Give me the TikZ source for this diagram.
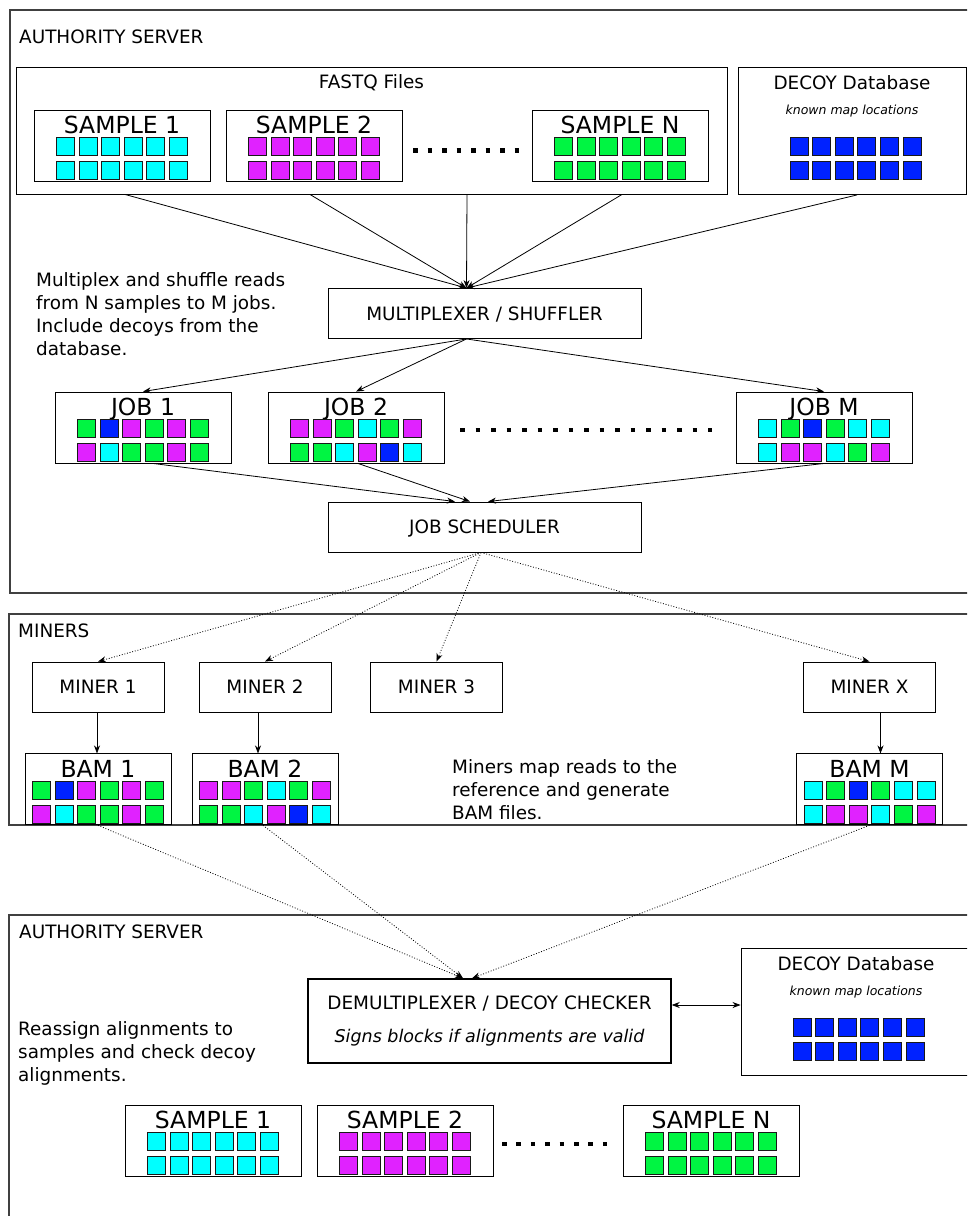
\documentclass[tikz,border=0pt]{standalone}
\usepackage{fontspec}
\setmainfont{DejaVu Sans}
\usetikzlibrary{positioning,arrows.meta}
\definecolor{cy}{HTML}{00FFFF}
\definecolor{ma}{HTML}{E022FF}
\definecolor{gn}{HTML}{00F542}
\definecolor{bu}{HTML}{0022FF}
\newcommand{\bodysize}{\fontsize{18.4}{23}\selectfont}
\newcommand{\cells}[3]{%
    \foreach \c [count=\i from 0] in {#2}
        \filldraw[cell, fill=\c] #1 ++(\i*22.6,0) rectangle ++(18,18);
    \foreach \c [count=\i from 0] in {#3}
        \filldraw[cell, fill=\c] #1 ++(\i*22.6,24) rectangle ++(18,18);
}
\tikzset{
    region/.style={draw=black!75, line width=1.2pt},
    heading/.style={anchor=west, inner sep=0pt, font=\bodysize},
    note/.style={anchor=north west, inner sep=0pt, align=left, font=\bodysize},
    plain/.style={draw, line width=0.9pt, minimum width=#1, minimum height=50pt,
        inner sep=0pt, text height=13.4pt, text depth=0pt, font=\bodysize},
    readbox/.style={draw, line width=0.9pt, minimum width=#1, inner xsep=0pt,
        inner ysep=6pt, text height=17.1pt, text depth=41.9pt,
        font=\fontsize{23.5}{26}\selectfont},
    readbox/.default=176pt,
    store/.style={draw, line width=0.9pt, minimum width=#1, inner xsep=0pt,
        inner ysep=8.3pt, text height=13.4pt, text depth=97pt, font=\bodysize},
    storenote/.style={inner sep=0pt, font=\fontsize{12.5}{14}\selectfont\itshape},
    cell/.style={draw=black!90, line width=0.9pt},
    dotrow/.style={line width=4.5pt, dash pattern=on 4.5pt off #1},
    feed/.style={->, line width=0.8pt},
    assign/.style={->, line width=0.8pt, dash pattern=on 0.9pt off 1.8pt},
    >={Stealth[length=8pt, width=6pt, inset=2.5pt]}
}

\begin{document}
\begin{tikzpicture}[x=1pt, y=-1pt]
\useasboundingbox (0,0) rectangle (967,1216);
\clip (0,0) rectangle (967,1216);

\draw[region] (10,10) rectangle (990,593);
\node[heading] (server) at (19,37) {AUTHORITY SERVER};
\node[store=711pt] (fastq) at (371.5,130.5) {FASTQ Files};
\node[store=228pt] (decoy) at (852,131) {DECOY Database};
\node[storenote] (decoynote) at (852,111) {known map locations};
\cells{([xshift=-62pt, yshift=-70pt]decoy.north)}{bu,bu,bu,bu,bu,bu}{bu,bu,bu,bu,bu,bu}

\node[readbox] (s1) at (122,146) {SAMPLE 1};
\node[readbox] (s2) at (314,146) {SAMPLE 2};
\node[readbox] (sn) at (620,146) {SAMPLE N};
\cells{([xshift=-65.5pt, yshift=-27.5pt]s1.north)}{cy,cy,cy,cy,cy,cy}{cy,cy,cy,cy,cy,cy}
\cells{([xshift=-65.5pt, yshift=-27.5pt]s2.north)}{ma,ma,ma,ma,ma,ma}{ma,ma,ma,ma,ma,ma}
\cells{([xshift=-65.5pt, yshift=-27.5pt]sn.north)}{gn,gn,gn,gn,gn,gn}{gn,gn,gn,gn,gn,gn}
\draw[dotrow=10pt] (413,150.5) -- (519,150.5);

\node[note] (muxnote) at (36,272.6) {Multiplex and shuffle reads\\from N samples to M jobs.\\Include decoys from the\\database.};
\node[plain=313pt] (mux) at (484.5,313.5) {MULTIPLEXER / SHUFFLER};
\coordinate (muxin) at ([xshift=-18pt]mux.north);
\coordinate (muxout) at ([xshift=-18pt]mux.south);
\foreach \dx in {-246.5,-61.5,95.5,250.5}
    \draw[feed] ([xshift=\dx pt]fastq.south) -- (muxin);
\draw[feed] ([xshift=5pt]decoy.south) -- (muxin);

\node[readbox] (job1) at (143,427.5) {JOB 1};
\node[readbox] (job2) at (356,427.5) {JOB 2};
\node[readbox] (jobm) at (824,427.5) {JOB M};
\cells{([xshift=-65.5pt, yshift=-27.5pt]job1.north)}{gn,bu,ma,gn,ma,gn}{ma,cy,gn,gn,ma,gn}
\cells{([xshift=-65.5pt, yshift=-27.5pt]job2.north)}{ma,ma,gn,cy,gn,ma}{gn,gn,cy,ma,bu,cy}
\cells{([xshift=-65.5pt, yshift=-27.5pt]jobm.north)}{cy,gn,bu,gn,cy,cy}{cy,ma,ma,cy,gn,ma}
\draw[dotrow=11pt] (460,430) -- (712,430);
\foreach \j in {job1,job2,jobm}
    \draw[feed] (muxout) -- (\j.north);

\node[plain=313pt] (sched) at (484.5,527) {JOB SCHEDULER};
\draw[feed] ([xshift=10pt]job1.south) -- ([xshift=-29.5pt]sched.north);
\draw[feed] ([xshift=2pt]job2.south) -- ([xshift=-14.5pt]sched.north);
\draw[feed] (jobm.south) -- ([xshift=3.5pt]sched.north);

\draw[region] (9,614) rectangle (990,825);
\node[heading] (miners) at (18,631) {MINERS};
\node[plain=132pt] (miner1) at (98,687) {MINER 1};
\node[plain=132pt] (miner2) at (265,687) {MINER 2};
\node[plain=132pt] (miner3) at (436.5,687) {MINER 3};
\node[plain=132pt] (minerx) at (869.5,687) {MINER X};
\foreach \m in {miner1,miner2,miner3,minerx}
    \draw[assign] ([xshift=-3.5pt]sched.south) -- (\m.north);

\node[readbox=146pt, below=41pt of miner1] (bam1) {BAM 1};
\node[readbox=146pt, below=41pt of miner2] (bam2) {BAM 2};
\node[readbox=146pt, below=41pt of minerx] (bamm) {BAM M};
\cells{([xshift=-65.5pt, yshift=-27.5pt]bam1.north)}{gn,bu,ma,gn,ma,gn}{ma,cy,gn,gn,ma,gn}
\cells{([xshift=-65.5pt, yshift=-27.5pt]bam2.north)}{ma,ma,gn,cy,gn,ma}{gn,gn,cy,ma,bu,cy}
\cells{([xshift=-65.5pt, yshift=-27.5pt]bamm.north)}{cy,gn,bu,gn,cy,cy}{cy,ma,ma,cy,gn,ma}
\draw[feed] ([xshift=-1pt]miner1.south) -- ([xshift=-1pt]bam1.north);
\draw[feed] ([xshift=-7pt]miner2.south) -- ([xshift=-7pt]bam2.north);
\draw[feed] ([xshift=11pt]minerx.south) -- ([xshift=11pt]bamm.north);
\node[note] (minernote) at (452,759.6) {Miners map reads to the\\reference and generate\\BAM files.};

\draw[region] (9,915) rectangle (990,1230);
\node[heading] (server2) at (19,932) {AUTHORITY SERVER};
\node[draw, line width=1.4pt, minimum width=363pt, minimum height=84pt, align=center,
    font=\bodysize] (demux) at (489.5,1021)
    {DEMULTIPLEXER / DECOY CHECKER\\[10pt]{\fontsize{17.5}{20}\selectfont\itshape Signs blocks if alignments are valid}};
\node[store=230pt] (decoy2) at (856,1012) {DECOY Database};
\node[storenote] (decoynote2) at (856,992) {known map locations};
\cells{([xshift=-63pt, yshift=-70pt]decoy2.north)}{bu,bu,bu,bu,bu,bu}{bu,bu,bu,bu,bu,bu}
\draw[<->, line width=0.8pt] ([yshift=16pt]demux.east) -- ([yshift=7pt]decoy2.west);
\draw[assign] (bam1.south) -- ([xshift=-26.5pt]demux.north);
\draw[assign] ([xshift=-2pt]bam2.south) -- ([xshift=-26.5pt]demux.north);
\draw[assign] (bamm.south) -- ([xshift=-17.5pt]demux.north);
\node[note] (demuxnote) at (18,1021) {Reassign alignments to\\samples and check decoy\\alignments.};

\node[readbox] (s1b) at (213,1141) {SAMPLE 1};
\node[readbox] (s2b) at (405,1141) {SAMPLE 2};
\node[readbox] (snb) at (711,1141) {SAMPLE N};
\cells{([xshift=-65.5pt, yshift=-27.5pt]s1b.north)}{cy,cy,cy,cy,cy,cy}{cy,cy,cy,cy,cy,cy}
\cells{([xshift=-65.5pt, yshift=-27.5pt]s2b.north)}{ma,ma,ma,ma,ma,ma}{ma,ma,ma,ma,ma,ma}
\cells{([xshift=-65.5pt, yshift=-27.5pt]snb.north)}{gn,gn,gn,gn,gn,gn}{gn,gn,gn,gn,gn,gn}
\draw[dotrow=9.9pt] (502,1144) -- (607,1144);
\end{tikzpicture}
\end{document}
